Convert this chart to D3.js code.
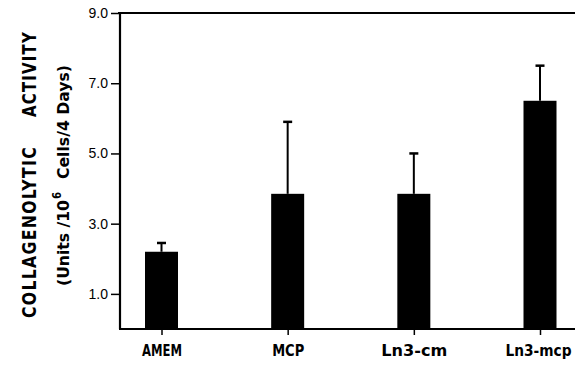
<!DOCTYPE html>
<html>
<head>
<meta charset="UTF-8">
<script src="https://d3js.org/d3.v7.min.js"></script>
<style>
  body { margin: 0; background: #fff; }
  .cond { font-family: "Liberation Sans Narrow", "DejaVu Sans Condensed", "DejaVu Sans", sans-serif; font-weight: bold; fill: #000; }
  .tick text { font-family: "Liberation Sans", Arial, sans-serif; font-size: 14px; fill: #000; }
</style>
</head>
<body>
<svg id="chart" width="575" height="366"></svg>
<script>
// data
const groups = ["AMEM", "MCP", "Ln3-cm", "Ln3-mcp"];
const means = [2.2, 3.85, 3.85, 6.5];
const upperErr = [0.25, 2.05, 1.15, 1.0];
const yTicks = [1, 3, 5, 7, 9];
const labelWidths = [40, 32, 66, 66];   // printed label widths (condensed type)

const svg = d3.select("#chart");
const left = 120, right = 575;

const y = d3.scaleLinear().domain([0, 9]).range([329, 13]);
const x = d3.scalePoint().domain(groups).range([161.5, 540]);
const barW = 33;

// y axis with ticks on the left
const yAxis = svg.append("g")
  .attr("transform", `translate(${left},0)`)
  .call(d3.axisLeft(y).tickValues(yTicks).tickFormat(d3.format(".1f")).tickSize(9).tickSizeOuter(0));
yAxis.select(".domain").remove();
yAxis.selectAll(".tick line").attr("stroke", "#000").attr("stroke-width", 1.5);
yAxis.selectAll(".tick text").attr("x", -12);

// frame lines: left, top, bottom
svg.append("line").attr("x1", left).attr("x2", left).attr("y1", y(9)).attr("y2", y(0))
  .attr("stroke", "#000").attr("stroke-width", 2.2);
svg.append("line").attr("x1", left - 2).attr("x2", right).attr("y1", y(9)).attr("y2", y(9))
  .attr("stroke", "#000").attr("stroke-width", 1.8);
svg.append("line").attr("x1", left - 1).attr("x2", right).attr("y1", y(0)).attr("y2", y(0))
  .attr("stroke", "#000").attr("stroke-width", 2);

// x axis ticks and labels
const xAxis = svg.append("g")
  .attr("transform", `translate(0,${y(0)})`)
  .call(d3.axisBottom(x).tickSize(6).tickSizeOuter(0));
xAxis.select(".domain").remove();
xAxis.selectAll(".tick line").attr("stroke", "#000").attr("stroke-width", 1.5);
xAxis.selectAll(".tick text")
  .attr("y", 27)
  .attr("dy", null)
  .attr("x", (d, i) => i === groups.length - 1 ? -2 : 0)
  .style("font-family", "'Liberation Sans Narrow', 'DejaVu Sans Condensed', 'DejaVu Sans', sans-serif")
  .style("font-weight", "bold")
  .style("font-size", "16px")
  .attr("textLength", (d, i) => labelWidths[i])
  .attr("lengthAdjust", "spacingAndGlyphs");

// bars
svg.selectAll(".bar").data(groups).join("rect")
  .attr("class", "bar")
  .attr("x", d => x(d) - barW / 2)
  .attr("width", barW)
  .attr("y", (d, i) => y(means[i]))
  .attr("height", (d, i) => y(0) - y(means[i]))
  .attr("fill", "#000");

// upper error bars
svg.selectAll(".err").data(groups).join("line")
  .attr("class", "err")
  .attr("x1", d => x(d)).attr("x2", d => x(d))
  .attr("y1", (d, i) => y(means[i]))
  .attr("y2", (d, i) => y(means[i] + upperErr[i]))
  .attr("stroke", "#000").attr("stroke-width", 2);
svg.selectAll(".cap").data(groups).join("line")
  .attr("class", "cap")
  .attr("x1", d => x(d) - 4.5).attr("x2", d => x(d) + 4.5)
  .attr("y1", (d, i) => y(means[i] + upperErr[i]))
  .attr("y2", (d, i) => y(means[i] + upperErr[i]))
  .attr("stroke", "#000").attr("stroke-width", 2.5);

// rotated y axis titles, squeezed to the printed length
function vtext(cx, cy, txt, size, len, anchor, spacing) {
  return svg.append("text")
    .attr("class", "cond")
    .attr("transform", `translate(${cx},${cy}) rotate(-90)`)
    .attr("text-anchor", anchor || "middle")
    .attr("dominant-baseline", "central")
    .attr("textLength", len)
    .attr("lengthAdjust", "spacingAndGlyphs")
    .style("font-size", size + "px")
    .style("letter-spacing", (spacing || 0) + "px")
    .text(txt);
}
vtext(29, 232, "COLLAGENOLYTIC", 20, 172, "middle", 1.5);
vtext(29, 74, "ACTIVITY", 20, 86, "middle", 1.5);

vtext(63, 286, "(Units /10", 16, 86, "start");
vtext(57, 199, "6", 12, 7, "start");
vtext(63, 122, "Cells/4 Days)", 16, 114);
</script>
</body>
</html>
